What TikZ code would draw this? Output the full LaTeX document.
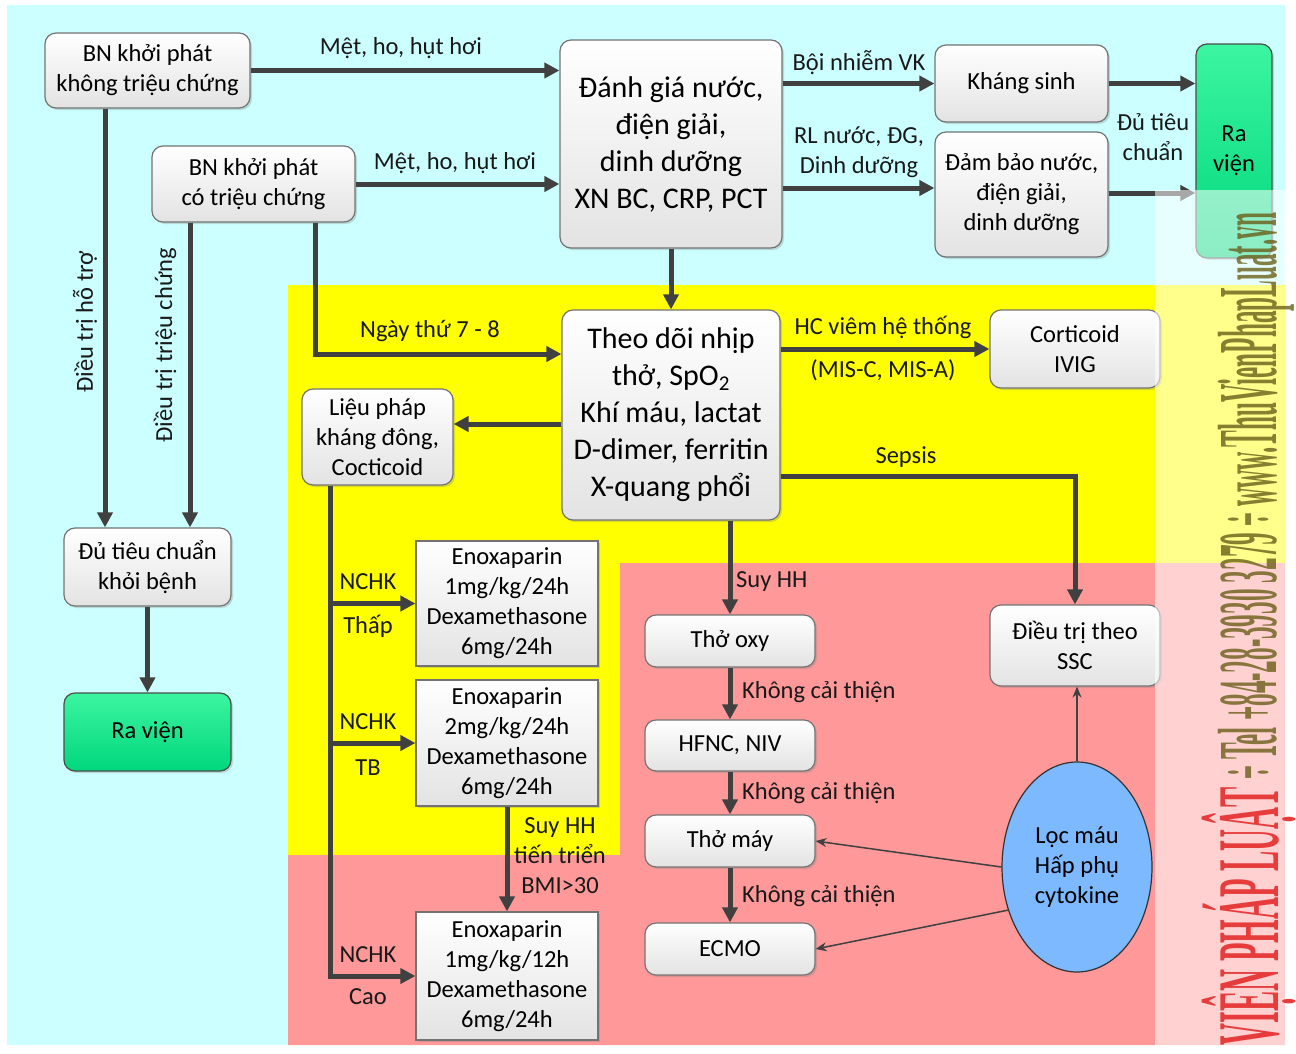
\documentclass[tikz,border=0pt]{standalone}
\usepackage{fontspec}
\setmainfont{Carlito}
\newfontfamily\wmfont{Liberation Serif}
\usetikzlibrary{arrows.meta,shapes.geometric,shadows,calc}
\definecolor{bgcyan}{RGB}{204,255,255}
\definecolor{bgyellow}{RGB}{255,255,0}
\definecolor{bgpink}{RGB}{255,153,153}
\definecolor{arrgray}{RGB}{64,64,64}
\definecolor{boxline}{RGB}{115,115,115}
\definecolor{greentop}{RGB}{60,245,160}
\definecolor{greenbot}{RGB}{0,215,125}
\definecolor{ellblue}{RGB}{125,185,255}
\definecolor{wmred}{RGB}{230,60,60}
\definecolor{wmolive}{RGB}{105,95,25}
\newcommand\myfs[2]{\fontsize{#1}{#2}\selectfont}
\begin{document}
\begin{tikzpicture}[x=1pt,y=-1pt,
  nbox/.style={draw=boxline, line width=1.2pt, rounded corners=11pt, top color=white, bottom color=gray!22, align=center, inner sep=0pt, font=\myfs{24.5}{30}, drop shadow={shadow xshift=2pt, shadow yshift=-2pt, opacity=0.3}},
  sqbox/.style={nbox, rounded corners=0pt},
  bigbox/.style={nbox, font=\myfs{30}{37}},
  greenbox/.style={nbox, top color=greentop, bottom color=greenbot, draw=gray!60!black},
  arr/.style={draw=arrgray, line width=5pt, -{Triangle[length=15pt,width=15pt]}},
  thinarr/.style={draw=arrgray, line width=1.5pt, -{Stealth[length=11pt,width=9pt]}},
  lbl/.style={font=\myfs{24.5}{30}, align=center, inner sep=0pt, text=black!90},
]
\useasboundingbox (0,0) rectangle (1296,1053);
\fill[white] (0,0) rectangle (1296,1053);
% backgrounds
\fill[bgcyan] (7,5) rectangle (1285,1045);
\fill[bgyellow] (288,285) -- (1285,285) -- (1285,563) -- (620,563) -- (620,855) -- (288,855) -- cycle;
\fill[bgpink] (620,563) -- (1285,563) -- (1285,1045) -- (288,1045) -- (288,855) -- (620,855) -- cycle;

% nodes
\node[nbox, minimum width=205pt, minimum height=75pt] (n1) at (147.5,70.5) {BN khởi phát\\không triệu chứng};
\node[nbox, minimum width=203pt, minimum height=76pt] (n2) at (253.5,184) {BN khởi phát\\có triệu chứng};
\node[bigbox, minimum width=222pt, minimum height=208pt] (n3) at (671,144) {Đánh giá nước,\\điện giải,\\dinh dưỡng\\XN BC, CRP, PCT};
\node[nbox, minimum width=173pt, minimum height=77pt] (ks) at (1021.5,83.5) {Kháng sinh};
\node[nbox, minimum width=173pt, minimum height=125pt] (dam) at (1021.5,194.5) {Đảm bảo nước,\\điện giải,\\dinh dưỡng};
\node[greenbox, minimum width=76pt, minimum height=214pt] (rv) at (1234,151) {Ra\\viện};
\node[bigbox, minimum width=218pt, minimum height=210pt] (n7) at (671,415) {Theo dõi nhịp\\thở, SpO\textsubscript{2}\\Khí máu, lactat\\D-dimer, ferritin\\X-quang phổi};
\node[nbox, minimum width=170pt, minimum height=78pt] (cort) at (1075,349) {Corticoid\\IVIG};
\node[nbox, minimum width=151pt, minimum height=96pt] (lp) at (377.5,437) {Liệu pháp\\kháng đông,\\Cocticoid};
\node[nbox, minimum width=167pt, minimum height=78pt] (n10) at (147.5,567) {Đủ tiêu chuẩn\\khỏi bệnh};
\node[greenbox, minimum width=167pt, minimum height=78pt] (rvl) at (147.5,732) {Ra viện};
\node[sqbox, minimum width=182pt, minimum height=125pt] (e1) at (507,603.5) {Enoxaparin\\1mg/kg/24h\\Dexamethasone\\6mg/24h};
\node[sqbox, minimum width=182pt, minimum height=126pt] (e2) at (507,743) {Enoxaparin\\2mg/kg/24h\\Dexamethasone\\6mg/24h};
\node[sqbox, minimum width=182pt, minimum height=128pt] (e3) at (507,976) {Enoxaparin\\1mg/kg/12h\\Dexamethasone\\6mg/24h};
\node[nbox, minimum width=170pt, minimum height=52pt] (oxy) at (730,641) {Thở oxy};
\node[nbox, minimum width=170pt, minimum height=51pt] (hfnc) at (730,745.5) {HFNC, NIV};
\node[nbox, minimum width=170pt, minimum height=52pt] (may) at (730,841) {Thở máy};
\node[nbox, minimum width=170pt, minimum height=52pt] (ecmo) at (730,949) {ECMO};
\node[nbox, minimum width=170pt, minimum height=81pt] (ssc) at (1075,645.5) {Điều trị theo\\SSC};
\node[ellipse, draw=gray!40!black, line width=1.2pt, fill=ellblue, minimum width=150pt, minimum height=210pt, align=center, font=\myfs{24.5}{30}, inner sep=0pt] (loc) at (1077,867) {Lọc máu\\Hấp phụ\\cytokine};

% connectors
\draw[arr] (n1.east) -- (n1.east -| n3.west);
\draw[arr] (n2.east) -- (n2.east -| n3.west);
\draw[arr] (ks.west -| n3.east) -- (ks.west);
\coordinate (d1) at ([yshift=6.5pt]dam.west);
\draw[arr] (d1 -| n3.east) -- (d1);
\draw[arr] (ks.east) -- (ks.east -| rv.west);
\coordinate (d2) at ([yshift=1.5pt]dam.east);
\draw[arr] (d2) -- (d2 -| rv.west);
\draw[arr] (n3.south) -- (n7.north);
\coordinate (c1) at ([xshift=-42.5pt]n1.south);
\draw[arr] (c1) -- (c1 |- n10.north);
\coordinate (c2) at ([xshift=-63.5pt]n2.south);
\draw[arr] (c2) -- (c2 |- n10.north);
\coordinate (c3) at ([xshift=61.5pt]n2.south);
\coordinate (c4) at ([yshift=61pt]n7.west);
\draw[arr] (c3) |- (c4);
\draw[arr] (cort.west -| n7.east) -- (cort.west);
\coordinate (c5) at ([yshift=-61pt]n7.east);
\draw[arr] (c5) -| (ssc.north);
\coordinate (c6) at ([yshift=-9pt]n7.west);
\draw[arr] (c6) -- (c6 -| lp.east);
\draw[arr] (n7.south -| oxy.north) -- (oxy.north);
\draw[arr] (oxy.south) -- (hfnc.north);
\draw[arr] (hfnc.south) -- (may.north);
\draw[arr] (may.south) -- (ecmo.north);
\draw[thinarr] (loc.west) -- (may.east);
\draw[thinarr] (loc.212) -- (ecmo.east);
\draw[thinarr] (loc.north) -- (loc.north |- ssc.south);
\coordinate (c7) at ([xshift=-47.5pt]lp.south);
\draw[arr] (c7) |- (e3.west);
\draw[arr] (c7 |- e1.west) -- (e1.west);
\draw[arr] (c7 |- e2.west) -- (e2.west);
\draw[arr] (e2.south) -- (e3.north);
\draw[arr] (n10.south) -- (rvl.north);

% labels
\node[lbl] (t1) at (401,48) {Mệt, ho, hụt hơi};
\node[lbl] (t2) at (455,163) {Mệt, ho, hụt hơi};
\node[lbl] (t3) at (859,63) {Bội nhiễm VK};
\node[lbl] (t4) at (859,152) {RL nước, ĐG,\\Dinh dưỡng};
\node[lbl] (t5) at (1153,137) {Đủ tiêu\\chuẩn};
\node[lbl] (t6) at (430,331) {Ngày thứ 7 - 8};
\node[lbl] (t7) at (883,327) {HC viêm hệ thống};
\node[lbl] (t8) at (883,370) {(MIS-C, MIS-A)};
\node[lbl] (t9) at (906,457) {Sepsis};
\node[lbl, anchor=west] (t10) at (736,582) {Suy HH};
\node[lbl, anchor=west] (t11) at (742,692) {Không cải thiện};
\node[lbl, anchor=west] (t12) at (742,793) {Không cải thiện};
\node[lbl, anchor=west] (t13) at (742,896) {Không cải thiện};
\node[lbl, rotate=90] (t14) at (85,322) {Điều trị hỗ trợ};
\node[lbl, rotate=90] (t15) at (165,345) {Điều trị triệu chứng};
\node[lbl] (t16) at (368,582) {NCHK};
\node[lbl] (t17) at (368,626) {Thấp};
\node[lbl] (t18) at (368,722) {NCHK};
\node[lbl] (t19) at (368,768) {TB};
\node[lbl] (t20) at (368,955) {NCHK};
\node[lbl] (t21) at (368,997) {Cao};
\node[lbl] (t22) at (560,856) {Suy HH\\tiến triển\\BMI>30};

% watermark
\fill[white, opacity=0.55] (1155,190) rectangle (1296,1053);
\node[rotate=90, anchor=base east, inner sep=0pt, text=wmred] (wm1) at (1278,787)
  {\resizebox{258pt}{\height}{\wmfont\bfseries\fontsize{88}{88}\selectfont VIỆN PHÁP LUẬT}};
\node[rotate=90, anchor=base west, inner sep=0pt, text=wmolive, text opacity=0.8] (wm2) at (1276,780)
  {\resizebox{567pt}{\height}{\wmfont\bfseries\fontsize{84}{84}\selectfont ÷ Tel +84-28-3930 3279 ÷ www.ThuVienPhapLuat.vn}};
\end{tikzpicture}
\end{document}
